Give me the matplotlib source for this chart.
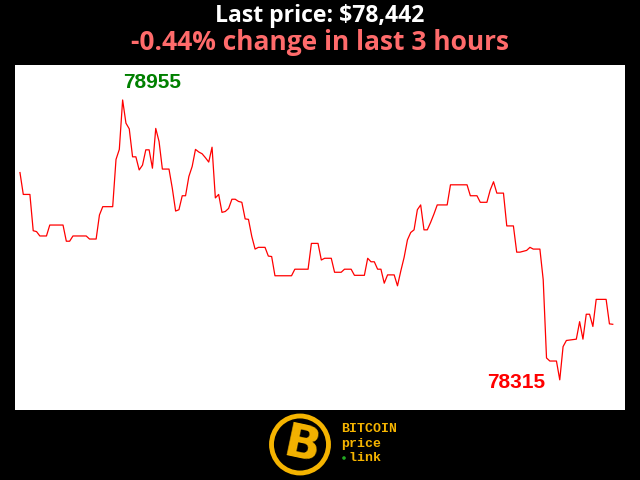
import numpy as np
import matplotlib
matplotlib.use("Agg")
import matplotlib.pyplot as plt
from matplotlib.patches import Circle

# --- price data (1 minute steps, last 3 hours) ---
prices = [
    78789, 78739, 78739, 78739, 78656, 78654, 78644, 78644, 78644, 78669,
    78669, 78669, 78669, 78669, 78632, 78632, 78644, 78644, 78644, 78644,
    78644, 78637, 78637, 78637, 78692, 78711, 78711, 78711, 78711, 78819,
    78842, 78955, 78902, 78889, 78825, 78825, 78795, 78806, 78841, 78841,
    78799, 78890, 78860, 78797, 78797, 78797, 78753, 78701, 78704, 78736,
    78736, 78780, 78803, 78842, 78836, 78832, 78823, 78813, 78847, 78731,
    78739, 78698, 78700, 78707, 78728, 78728, 78723, 78721, 78683, 78682,
    78643, 78614, 78618, 78618, 78618, 78598, 78597, 78553, 78553, 78553,
    78553, 78553, 78553, 78568, 78568, 78568, 78568, 78568, 78627, 78627,
    78627, 78589, 78593, 78593, 78593, 78561, 78561, 78561, 78568, 78568,
    78568, 78554, 78554, 78554, 78554, 78593, 78585, 78585, 78568, 78568,
    78536, 78555, 78555, 78555, 78530, 78564, 78595, 78635, 78652, 78658,
    78704, 78715, 78658, 78658, 78675, 78694, 78715, 78715, 78715, 78715,
    78761, 78761, 78761, 78761, 78761, 78761, 78736, 78736, 78736, 78721,
    78721, 78721, 78749, 78768, 78742, 78742, 78742, 78667, 78667, 78667,
    78607, 78607, 78609, 78611, 78618, 78614, 78614, 78614, 78544, 78365,
    78358, 78358, 78358, 78315, 78391, 78405, 78406, 78407, 78408, 78448,
    78408, 78465, 78465, 78437, 78499, 78499, 78499, 78499, 78443, 78442,
]

last_price = prices[-1]
change_pct = (prices[-1] / prices[0] - 1) * 100
hours = 3

fig = plt.figure(figsize=(6.4, 4.8), dpi=100, facecolor="black")

# main chart
ax = fig.add_axes([15 / 640, 70 / 480, 610 / 640, 345 / 480])
ax.set_facecolor("white")
x = np.arange(len(prices))
ax.plot(x, prices, color="red", linewidth=0.9)
ax.set_xlim(-1.5, 182.7)
ax.set_ylim(78246, 79035)
ax.set_xticks([])
ax.set_yticks([])
for s in ax.spines.values():
    s.set_visible(False)

# max / min labels
imax = int(np.argmax(prices))
imin = int(np.argmin(prices))
ax.annotate(str(max(prices)), (imax, prices[imax]), xytext=(29, 17),
            textcoords="offset pixels", ha="center", va="center",
            color="green", fontsize=15, fontweight="bold",
            family="Liberation Sans")
ax.annotate(str(min(prices)), (imin, prices[imin]), xytext=(-44, -3),
            textcoords="offset pixels", ha="center", va="center",
            color="red", fontsize=15, fontweight="bold",
            family="Liberation Sans")

# title lines
fig.text(0.5, 1 - 16 / 480, "Last price: ${:,}".format(last_price),
         ha="center", va="center", color="white", fontsize=16.6,
         fontweight="bold", family="Open Sans")
fig.text(0.5, 1 - 42 / 480,
         "{:.2f}% change in last {} hours".format(change_pct, hours),
         ha="center", va="center", color="#ff6b6b", fontsize=19,
         fontweight="bold", family="Open Sans")

# logo at the bottom
lg = fig.add_axes([0, 0, 1, 1], facecolor="none")
lg.set_xlim(0, 640)
lg.set_ylim(480, 0)
lg.axis("off")
gold = "#f5b400"
lg.add_patch(Circle((300, 444.5), 28.5, facecolor="black",
                    edgecolor=gold, linewidth=3.5))
lg.text(302, 447, "B", ha="center", va="center", color=gold,
        fontsize=34, fontweight="bold", family="DejaVu Sans", rotation=-12)
for i, word in enumerate(["BITCOIN", "price", "link"]):
    lg.text(341, 429 + i * 14.5, word if i < 2 else " " + word,
            ha="left", va="center", color=gold, fontsize=9.5,
            fontweight="bold", family="Liberation Mono")
lg.add_patch(Circle((344, 458), 1.8, facecolor="#22aa22", edgecolor="none"))

fig.savefig("out.png", dpi=100, facecolor="black")
